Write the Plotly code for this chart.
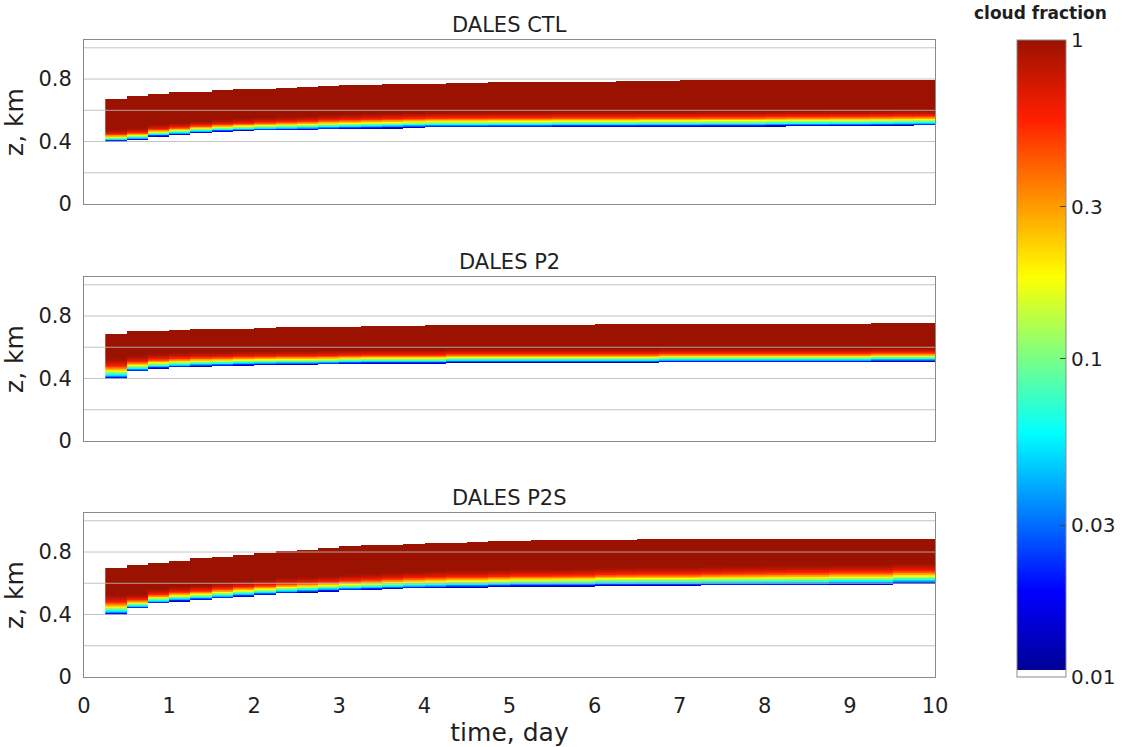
import numpy as np
import plotly.graph_objects as go

# ---------------- data ----------------
# time-block edges (day); 39 blocks of 0.25 day
time_edges = [0.25, 0.5, 0.75, 1.0, 1.25, 1.5, 1.75, 2.0, 2.25, 2.5, 2.75, 3.0, 3.25, 3.5,
              3.75, 4.0, 4.25, 4.5, 4.75, 5.0, 5.25, 5.5, 5.75, 6.0, 6.25, 6.5, 6.75, 7.0,
              7.25, 7.5, 7.75, 8.0, 8.25, 8.5, 8.75, 9.0, 9.25, 9.5, 9.75, 10.0]

panel_titles = ["DALES CTL", "DALES P2", "DALES P2S"]

# cloud top (km) per time block
ctl_top = [0.674, 0.693, 0.704, 0.714, 0.721, 0.727, 0.734, 0.740, 0.744, 0.749, 0.755, 0.759,
           0.761, 0.766, 0.770, 0.770, 0.774, 0.774, 0.778, 0.780, 0.780, 0.783, 0.783, 0.785,
           0.787, 0.789, 0.789, 0.790, 0.790, 0.790, 0.791, 0.791, 0.791, 0.792, 0.792, 0.792,
           0.793, 0.793, 0.793]
p2_top = [0.685, 0.702, 0.705, 0.711, 0.715, 0.717, 0.720, 0.722, 0.726, 0.728, 0.730, 0.732,
          0.734, 0.734, 0.736, 0.740, 0.740, 0.740, 0.741, 0.742, 0.745, 0.745, 0.745, 0.746,
          0.746, 0.746, 0.747, 0.747, 0.747, 0.750, 0.750, 0.750, 0.750, 0.750, 0.751, 0.751,
          0.757, 0.757, 0.757]
p2s_top = [0.695, 0.717, 0.727, 0.742, 0.759, 0.767, 0.782, 0.793, 0.806, 0.815, 0.825, 0.838,
           0.844, 0.846, 0.853, 0.857, 0.861, 0.865, 0.868, 0.871, 0.874, 0.876, 0.878, 0.878,
           0.880, 0.882, 0.882, 0.882, 0.882, 0.884, 0.884, 0.884, 0.884, 0.884, 0.885, 0.885,
           0.885, 0.885, 0.885]

# cloud base (km) per time block
ctl_base = [0.401, 0.412, 0.433, 0.444, 0.455, 0.463, 0.468, 0.472, 0.474, 0.476, 0.480, 0.482,
            0.484, 0.486, 0.489, 0.491, 0.491, 0.491, 0.492, 0.492, 0.492, 0.494, 0.494, 0.494,
            0.494, 0.495, 0.495, 0.495, 0.496, 0.496, 0.496, 0.498, 0.499, 0.499, 0.500, 0.500,
            0.501, 0.502, 0.503]
p2_base = [0.400, 0.447, 0.464, 0.472, 0.478, 0.481, 0.485, 0.487, 0.489, 0.489, 0.491, 0.494,
           0.496, 0.496, 0.496, 0.496, 0.502, 0.502, 0.502, 0.502, 0.502, 0.502, 0.502, 0.502,
           0.502, 0.502, 0.506, 0.506, 0.506, 0.506, 0.506, 0.506, 0.506, 0.506, 0.506, 0.506,
           0.510, 0.510, 0.510]
p2s_base = [0.400, 0.440, 0.472, 0.485, 0.493, 0.504, 0.515, 0.525, 0.536, 0.542, 0.549, 0.555,
            0.559, 0.564, 0.568, 0.570, 0.574, 0.574, 0.578, 0.581, 0.581, 0.581, 0.581, 0.585,
            0.585, 0.585, 0.585, 0.585, 0.587, 0.587, 0.587, 0.587, 0.587, 0.587, 0.591, 0.591,
            0.591, 0.598, 0.598]

# depth (km) of the graded layer above cloud base
ctl_depth = [0.075, 0.075, 0.075, 0.076, 0.077, 0.078, 0.080, 0.083, 0.086, 0.089, 0.092, 0.094,
             0.096, 0.097, 0.098, 0.099, 0.100, 0.100, 0.100, 0.100, 0.100, 0.100, 0.100, 0.100,
             0.100, 0.100, 0.100, 0.100, 0.100, 0.100, 0.100, 0.100, 0.100, 0.100, 0.100, 0.100,
             0.100, 0.100, 0.100]
p2_depth = [0.130, 0.100, 0.096, 0.094, 0.092, 0.090, 0.090, 0.090, 0.090, 0.090, 0.090, 0.090,
            0.090, 0.090, 0.090, 0.090, 0.090, 0.090, 0.090, 0.090, 0.090, 0.090, 0.090, 0.090,
            0.090, 0.090, 0.090, 0.090, 0.090, 0.090, 0.090, 0.090, 0.090, 0.090, 0.090, 0.090,
            0.090, 0.090, 0.090]
p2s_depth = [0.127, 0.091, 0.093, 0.095, 0.097, 0.100, 0.100, 0.100, 0.100, 0.100, 0.100, 0.102,
             0.104, 0.106, 0.108, 0.110, 0.110, 0.110, 0.110, 0.110, 0.110, 0.112, 0.114, 0.116,
             0.118, 0.120, 0.120, 0.120, 0.122, 0.124, 0.126, 0.128, 0.130, 0.130, 0.130, 0.130,
             0.130, 0.130, 0.130]

# normalised profile of cloud fraction inside the graded layer (0 = base, 1 = top of layer)
profile_eta = [0.0, 0.08, 0.18, 0.28, 0.38, 0.50, 0.62, 0.80, 1.0]
profile_frac = [0.012, 0.025, 0.055, 0.10, 0.18, 0.32, 0.55, 0.80, 1.0]

# colour bar
cb_vals = [0.01, 0.03, 0.1, 0.3, 1]
cb_text = ["0.01", "0.03", "0.1", "0.3", "1"]
x_ticks = [0, 1, 2, 3, 4, 5, 6, 7, 8, 9, 10]
y_ticks = [0, 0.4, 0.8]
y_tick_text = ["0", "0.4", "0.8"]
grid_levels = [0.2, 0.4, 0.6, 0.8, 1.0]

panels = [(ctl_base, ctl_top, ctl_depth),
          (p2_base, p2_top, p2_depth),
          (p2s_base, p2s_top, p2s_depth)]

# ---------------- build the fields ----------------
dz = 0.004
z_edges = np.arange(0.0, 1.05 + dz / 2, dz)
z_mid = 0.5 * (z_edges[:-1] + z_edges[1:])


def build_field(base, top, depth):
    nz, nt = len(z_mid), len(base)
    fld = np.full((nz, nt), np.nan)
    for j in range(nt):
        for i, zc in enumerate(z_mid):
            if base[j] <= zc <= top[j]:
                eta = (zc - base[j]) / depth[j]
                f = np.interp(eta, profile_eta, profile_frac)
                fld[i, j] = np.log10(f)
    return fld


# jet-like colour scale on log10(fraction) with a white bottom slot
white_end = 0.011
jet = [(0.0, "rgb(0,0,150)"), (0.125, "rgb(0,0,255)"), (0.375, "rgb(0,255,255)"),
       (0.625, "rgb(255,255,0)"), (0.875, "rgb(255,30,0)"), (1.0, "rgb(155,18,0)")]
colorscale = [[0.0, "white"], [white_end, "white"]]
for s, c in jet:
    colorscale.append([white_end + s * (1 - white_end), c])

FONT = "DejaVu Sans, Liberation Sans, Arial, sans-serif"
TXT = "#1f1f1f"
FS = 21

fig = go.Figure()
domains = [[0.7425, 1.0], [0.3705, 0.628], [0.0, 0.2575]]
for k, (base, top, depth) in enumerate(panels):
    sfx = "" if k == 0 else str(k + 1)
    fig.add_trace(go.Heatmap(
        x=time_edges, y=z_edges, z=build_field(base, top, depth),
        coloraxis="coloraxis", xaxis="x" + sfx, yaxis="y" + sfx,
        zsmooth=False, hoverongaps=False, showscale=(k == 0)))

layout = dict(
    width=1122, height=747,
    margin=dict(l=84, r=187, t=40, b=70, autoexpand=False),
    paper_bgcolor="white", plot_bgcolor="white",
    font=dict(family=FONT, size=FS, color=TXT),
    showlegend=False,
    coloraxis=dict(
        colorscale=colorscale, cmin=-2, cmax=0,
        colorbar=dict(
            x=(1017 - 84) / 851, xanchor="left", y=0.5, yanchor="middle",
            len=1, lenmode="fraction", thickness=49, thicknessmode="pixels",
            xpad=0, ypad=0, outlinewidth=1, outlinecolor="#8a8a8a",
            tickvals=[float(np.log10(v)) for v in cb_vals], ticktext=cb_text,
            ticks="inside", ticklen=6, tickcolor="#444", tickwidth=1,
            tickfont=dict(size=20, family=FONT, color=TXT),
        ),
    ),
)
shapes = []
annotations = []
for k in range(3):
    sfx = "" if k == 0 else str(k + 1)
    layout["xaxis" + sfx] = dict(
        domain=[0, 1], anchor="y" + sfx, range=[0, 10], automargin=False,
        showgrid=False, zeroline=False, showline=True, mirror=True,
        linecolor="#8a8a8a", linewidth=1, ticks="",
        tickvals=x_ticks, showticklabels=(k == 2), ticklabelstandoff=10,
        title=dict(text="time, day" if k == 2 else "", standoff=12),
    )
    layout["yaxis" + sfx] = dict(
        domain=domains[k], anchor="x" + sfx, range=[0, 1.05], automargin=False,
        showgrid=False, zeroline=False, showline=True, mirror=True,
        linecolor="#8a8a8a", linewidth=1, ticks="",
        tickvals=y_ticks, ticktext=y_tick_text, ticklabelstandoff=7,
        title=dict(text="z, km", standoff=9),
    )
    for g in grid_levels:
        shapes.append(dict(type="line", xref="x" + sfx + " domain", yref="y" + sfx,
                           x0=0, x1=1, y0=g, y1=g, layer="above",
                           line=dict(color="rgba(185,185,185,0.85)", width=1)))
    annotations.append(dict(text=panel_titles[k], xref="x" + sfx + " domain",
                            yref="y" + sfx + " domain", x=0.5, y=1, xanchor="center",
                            yanchor="bottom", yshift=1, showarrow=False,
                            font=dict(size=FS, family=FONT, color=TXT)))

annotations.append(dict(text="<b>cloud fraction</b>", xref="paper", yref="paper",
                        x=(1040 - 84) / 851, y=(677 - 13) / 637, xanchor="center",
                        yanchor="middle", showarrow=False,
                        font=dict(size=17, family=FONT, color=TXT)))
layout["shapes"] = shapes
layout["annotations"] = annotations
fig.update_layout(**layout)

fig.write_html("out.html")
